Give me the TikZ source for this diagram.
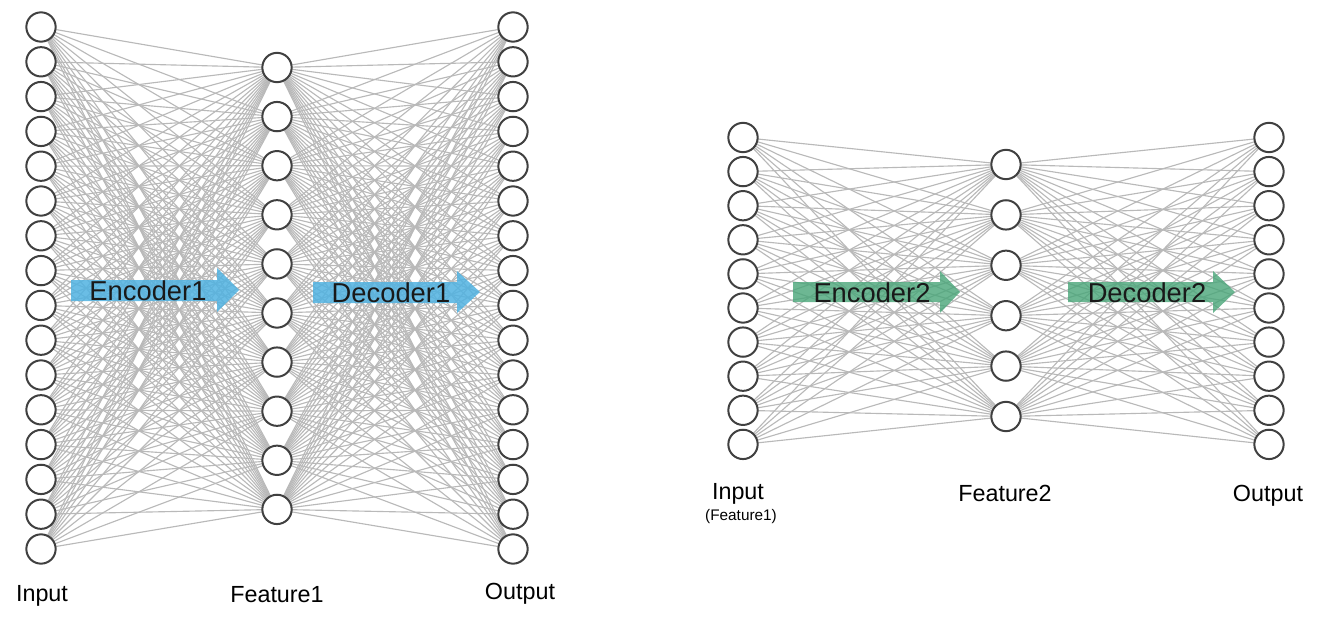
\documentclass[tikz,border=0pt]{standalone}
\usepackage{fontspec}
\setmainfont{Liberation Sans}
\usetikzlibrary{backgrounds}
\definecolor{edgegray}{RGB}{185,185,185}
\definecolor{nodeline}{RGB}{64,64,64}
\definecolor{encblue}{RGB}{80,178,225}
\definecolor{encgreen}{RGB}{72,165,120}
\begin{document}
\begin{tikzpicture}[x=0.75pt,y=-0.75pt,
  neuron/.style={circle,draw=nodeline,line width=1.5pt,fill=white,minimum size=22pt,inner sep=0pt},
  conn/.style={draw=edgegray,line width=0.85pt},
  lbl/.style={font=\fontsize{17.5}{21}\selectfont,text=black,inner sep=0pt},
  sublbl/.style={font=\fontsize{11.5}{14}\selectfont,text=black,inner sep=0pt},
  arrtext/.style={font=\fontsize{20.5}{24}\selectfont,text=black!90,inner sep=0pt},
  bluearrow/.style={fill=encblue,fill opacity=0.85},
  greenarrow/.style={fill=encgreen,fill opacity=0.8}]
\useasboundingbox (0,0) rectangle (1325,624);
% ---------- left network ----------
\foreach \i in {1,...,16} \node[neuron] (a\i) at (41,{27+(\i-1)*34.8}) {};
\foreach \j in {1,...,10} \node[neuron] (b\j) at (277,{67.5+(\j-1)*49.1}) {};
\foreach \i in {1,...,16} \node[neuron] (c\i) at (513,{27+(\i-1)*34.8}) {};
% ---------- right network ----------
\foreach \i in {1,...,10} \node[neuron] (d\i) at (743,{137.5+(\i-1)*34.1}) {};
\foreach \j in {1,...,6} \node[neuron] (e\j) at (1006,{164.5+(\j-1)*50.4}) {};
\foreach \i in {1,...,10} \node[neuron] (f\i) at (1269,{137.5+(\i-1)*34.1}) {};
\begin{pgfonlayer}{background}
\foreach \i in {1,...,16} \foreach \j in {1,...,10} {
  \draw[conn] (a\i.center) -- (b\j.center);
  \draw[conn] (b\j.center) -- (c\i.center);
}
\foreach \i in {1,...,10} \foreach \j in {1,...,6} {
  \draw[conn] (d\i.center) -- (e\j.center);
  \draw[conn] (e\j.center) -- (f\i.center);
}
\end{pgfonlayer}
% ---------- arrows ----------
\fill[bluearrow] (71,280) -- (217,280) -- (217,268) -- (239,290) -- (217,312) -- (217,301) -- (71,301) -- cycle;
\node[arrtext] (enc1) at (148,291) {Encoder1};
\fill[bluearrow] (313,282) -- (457,282) -- (457,271) -- (480,292) -- (457,313) -- (457,303) -- (313,303) -- cycle;
\node[arrtext] (dec1) at (391,293) {Decoder1};
\fill[greenarrow] (793,282) -- (940,282) -- (940,271) -- (960,292) -- (940,313) -- (940,302) -- (793,302) -- cycle;
\node[arrtext] (enc2) at (872,293) {Encoder2};
\fill[greenarrow] (1068,282) -- (1213,282) -- (1213,271) -- (1235,292) -- (1213,313) -- (1213,302) -- (1068,302) -- cycle;
\node[arrtext] (dec2) at (1147,293) {Decoder2};
% ---------- labels ----------
\node[lbl] (l1) at (42,596) {Input};
\node[lbl] (l2) at (277,595) {Feature1};
\node[lbl] (l3) at (520,594) {Output};
\node[lbl] (l4) at (738,494) {Input};
\node[sublbl] (l5) at (741,517) {(Feature1)};
\node[lbl] (l6) at (1005,493) {Feature2};
\node[lbl] (l7) at (1268,496) {Output};
\end{tikzpicture}
\end{document}
